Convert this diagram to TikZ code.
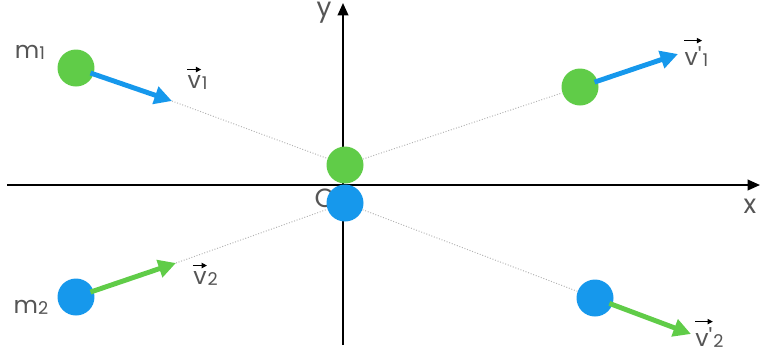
\documentclass[tikz,border=0pt]{standalone}
\usepackage{fontspec}
\setmainfont{Poppins}
\usetikzlibrary{arrows.meta,positioning}
\definecolor{ballgreen}{RGB}{96,204,72}
\definecolor{ballblue}{RGB}{22,152,236}
\definecolor{txtgray}{RGB}{85,85,85}
\tikzset{
  gball/.style={circle,fill=ballgreen,minimum size=0.74cm,inner sep=0pt},
  bball/.style={circle,fill=ballblue,minimum size=0.74cm,inner sep=0pt},
  axis/.style={-{Triangle[length=7pt,width=6pt]},line width=1.1pt},
  vel/.style={-{Triangle[length=10pt,width=10pt]},line width=2.8pt,shorten <=-2pt},
  path/.style={gray!60,densely dotted,line width=0.55pt},
  lbl/.style={text=txtgray,font=\fontsize{13.5}{14}\selectfont},
  axlbl/.style={text=txtgray,font=\fontsize{15}{16}\selectfont}
}
\newcommand{\sub}[2]{#1{\fontsize{10}{10}\selectfont\raisebox{-0.1ex}{#2}}}
\newcommand{\arr}[2]{\tikz[baseline=(t.base)]{\node[inner sep=0pt,anchor=base] (t) {#1};
  \draw[black,line width=0.7pt,-{Triangle[length=3pt,width=3pt]}] ([yshift=3pt]t.north west) -- ([yshift=3pt]t.north east);}%
  {\fontsize{10}{10}\selectfont\raisebox{-0.1ex}{#2}}}

\begin{document}
\begin{tikzpicture}[x=0.02cm,y=-0.02cm]
\useasboundingbox (0,0) rectangle (760,353);
% axes
\coordinate (O) at (343,185);
\coordinate (xl) at (7,185);
\coordinate (xr) at (760,185);
\coordinate (yb) at (343,345);
\coordinate (yt) at (343,3);
\draw[axis] (xl) -- (xr);
\draw[axis] (yb) -- (yt);
\node[axlbl] (xlab) at (750,206) {x};
\node[axlbl] (ylab) at (324,13) {y};
\node[axlbl] (olab) at (325,198) {O};
% balls before, at and after the collision
\node[gball] (m1a) at (76,68) {};
\node[bball] (m2a) at (76,297) {};
\node[gball] (m1c) at (345,165) {};
\node[bball] (m2c) at (345,203) {};
\node[gball] (m1b) at (580,87) {};
\node[bball] (m2b) at (595,298) {};
% arrow tips
\coordinate (v1) at (172,101);
\coordinate (v2) at (176,263);
\coordinate (w1) at (678,54);
\coordinate (w2) at (691,334);
% paths
\draw[path] (v1) -- (m1c);
\draw[path] (m1c) -- (m1b);
\draw[path] (v2) -- (m2c);
\draw[path] (m2c) -- (m2b);
% velocities
\draw[vel,ballblue] (m1a) -- (v1);
\draw[vel,ballgreen] (m2a) -- (v2);
\draw[vel,ballblue] (m1b) -- (w1);
\draw[vel,ballgreen] (m2b) -- (w2);
% labels
\node[lbl] (m1lab) at (30,52) {\sub{m}{1}};
\node[lbl] (m2lab) at (31,307) {\sub{m}{2}};
\node[lbl] (v1lab) at (197,78) {\arr{v}{1}};
\node[lbl] (v2lab) at (205,274) {\arr{v}{2}};
\node[lbl] (w1lab) at (696,52) {\arr{v\textquotesingle}{1}};
\node[lbl] (w2lab) at (709,333) {\arr{v\textquotesingle}{2}};
\end{tikzpicture}
\end{document}
